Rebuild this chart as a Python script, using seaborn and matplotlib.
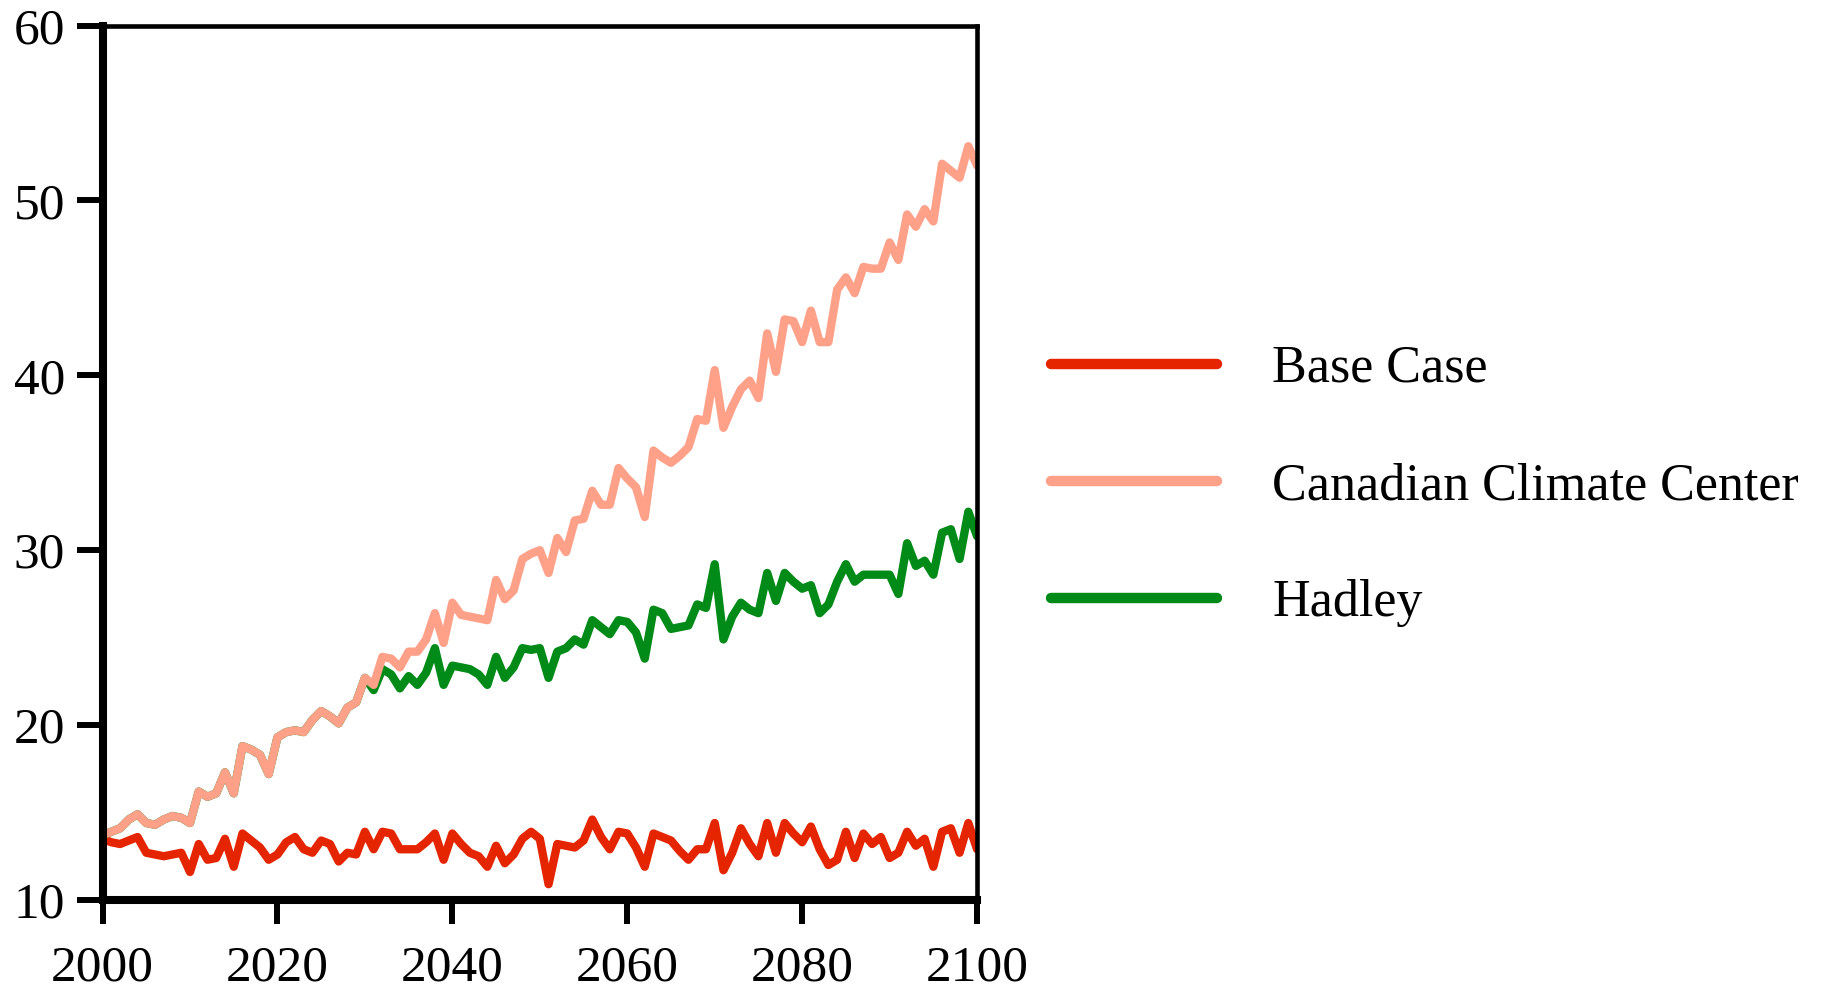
import matplotlib
matplotlib.use("Agg")
import matplotlib.pyplot as plt
from matplotlib.lines import Line2D
import pandas as pd
import seaborn as sns

# annual values, 2000-2100
years = list(range(2000, 2101))

base_case = [
    13.5, 13.3, 13.2, 13.4, 13.6, 12.7, 12.6, 12.5, 12.6, 12.7,
    11.6, 13.2, 12.3, 12.4, 13.5, 11.9, 13.8, 13.4, 13.0, 12.3,
    12.6, 13.3, 13.6, 12.9, 12.7, 13.4, 13.2, 12.2, 12.7, 12.6,
    13.9, 12.9, 13.9, 13.8, 12.9, 12.9, 12.9, 13.3, 13.8, 12.3,
    13.8, 13.2, 12.7, 12.5, 11.9, 13.1, 12.1, 12.6, 13.5, 13.9,
    13.5, 10.9, 13.2, 13.1, 13.0, 13.4, 14.6, 13.6, 12.9, 13.9,
    13.8, 13.0, 11.9, 13.8, 13.6, 13.4, 12.8, 12.3, 12.9, 12.9,
    14.4, 11.7, 12.7, 14.1, 13.2, 12.5, 14.4, 12.7, 14.4, 13.8,
    13.3, 14.2, 12.9, 12.0, 12.3, 13.9, 12.4, 13.8, 13.2, 13.6,
    12.4, 12.7, 13.9, 13.1, 13.5, 11.9, 13.9, 14.1, 12.7, 14.4,
    12.9,
]

canadian = [
    13.7, 13.9, 14.1, 14.6, 14.9, 14.4, 14.3, 14.6, 14.8, 14.7,
    14.4, 16.2, 15.9, 16.1, 17.3, 16.1, 18.8, 18.6, 18.3, 17.2,
    19.3, 19.6, 19.7, 19.6, 20.3, 20.8, 20.5, 20.1, 21.0, 21.3,
    22.7, 22.3, 23.9, 23.8, 23.3, 24.2, 24.2, 24.9, 26.4, 24.7,
    27.0, 26.3, 26.2, 26.1, 26.0, 28.3, 27.2, 27.7, 29.5, 29.8,
    30.0, 28.7, 30.7, 29.9, 31.7, 31.8, 33.4, 32.6, 32.6, 34.7,
    34.1, 33.6, 31.9, 35.7, 35.3, 35.0, 35.4, 35.9, 37.5, 37.4,
    40.3, 37.0, 38.2, 39.2, 39.7, 38.7, 42.4, 40.2, 43.2, 43.1,
    41.9, 43.7, 41.9, 41.9, 44.9, 45.6, 44.7, 46.2, 46.1, 46.1,
    47.6, 46.6, 49.2, 48.5, 49.5, 48.8, 52.1, 51.7, 51.3, 53.1,
    52.0,
]

hadley = [
    13.7, 13.9, 14.1, 14.6, 14.9, 14.4, 14.3, 14.6, 14.8, 14.7,
    14.4, 16.2, 15.9, 16.1, 17.3, 16.1, 18.8, 18.6, 18.3, 17.2,
    19.3, 19.6, 19.7, 19.6, 20.3, 20.8, 20.5, 20.1, 21.0, 21.3,
    22.7, 22.0, 23.2, 22.9, 22.1, 22.8, 22.3, 23.0, 24.4, 22.3,
    23.4, 23.3, 23.2, 22.9, 22.3, 23.9, 22.7, 23.3, 24.4, 24.3,
    24.4, 22.7, 24.2, 24.4, 24.9, 24.6, 26.0, 25.6, 25.2, 26.0,
    25.9, 25.3, 23.8, 26.6, 26.4, 25.5, 25.6, 25.7, 26.9, 26.7,
    29.2, 24.9, 26.2, 27.0, 26.6, 26.4, 28.7, 27.1, 28.7, 28.2,
    27.8, 28.0, 26.4, 26.9, 28.2, 29.2, 28.2, 28.6, 28.6, 28.6,
    28.6, 27.5, 30.4, 29.1, 29.4, 28.6, 31.0, 31.2, 29.5, 32.2,
    30.8,
]

series_names = ["Base Case", "Canadian Climate Center", "Hadley"]
colors = {
    "Base Case": "#e42500",
    "Canadian Climate Center": "#ffa089",
    "Hadley": "#008a17",
}

df = pd.DataFrame({
    "year": years * 3,
    "value": base_case + canadian + hadley,
    "series": [n for n in series_names for _ in years],
})

sns.set_style("white")
plt.rcParams["font.family"] = ["Liberation Serif", "DejaVu Serif"]
plt.rcParams["text.color"] = "black"

fig = plt.figure(figsize=(18.28, 9.88), dpi=100)
ax = fig.add_axes([0.0561, 0.0891, 0.4784, 0.885])

# hadley under canadian, where they overlap early on
for name in ["Base Case", "Hadley", "Canadian Climate Center"]:
    sns.lineplot(data=df[df["series"] == name], x="year", y="value",
                 color=colors[name], linewidth=6, ax=ax, legend=False)

ax.set_xlim(2000, 2100)
ax.set_ylim(10, 60)
ax.set_xticks(range(2000, 2101, 20))
ax.set_yticks(range(10, 61, 10))
ax.set_xlabel("")
ax.set_ylabel("")
ax.tick_params(axis="both", direction="out", width=4.3,
               labelsize=37, colors="black", bottom=True, left=True)
ax.tick_params(axis="x", length=17.3, pad=15)
ax.tick_params(axis="y", length=19, pad=8)

for side in ["left", "bottom"]:
    ax.spines[side].set_linewidth(5.8)
for side in ["top", "right"]:
    ax.spines[side].set_linewidth(3.3)
for sp in ax.spines.values():
    sp.set_color("black")
    sp.set_visible(True)

handles = [Line2D([], [], color=colors[n], linewidth=7.5) for n in series_names]
fig.legend(handles, series_names, loc="upper left",
           bbox_to_anchor=(0.575, 0.651), frameon=False, fontsize=37.5,
           handlelength=3.18, handletextpad=1.07, labelspacing=1.33,
           borderpad=0, borderaxespad=0)

fig.savefig("out.png", dpi=100)
